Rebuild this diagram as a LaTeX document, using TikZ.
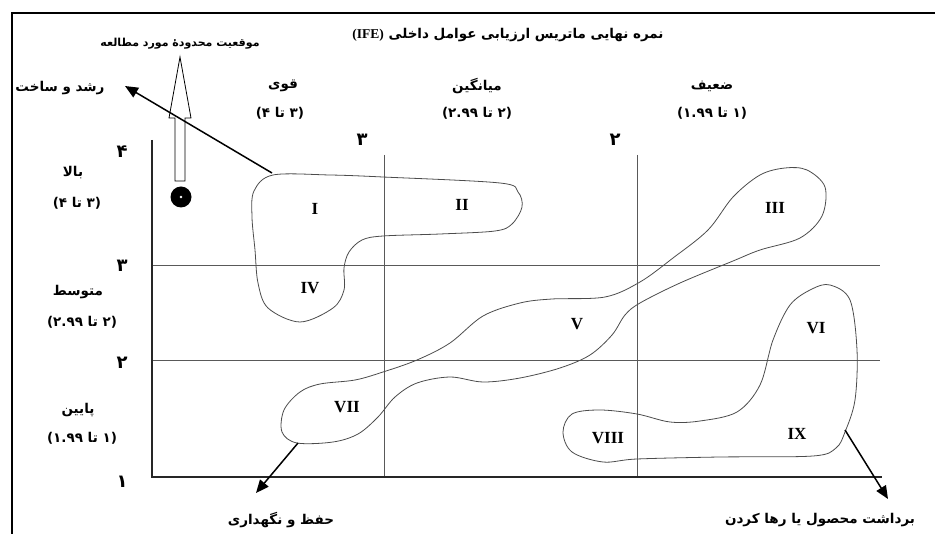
\documentclass[tikz,border=0pt]{standalone}
\usepackage{fontspec}
\usetikzlibrary{arrows.meta}
\TeXXeTstate=1
\newfontfamily\fa[Script=Arabic]{DejaVu Sans}
\newfontfamily\faL{DejaVu Sans}
\newfontfamily\tnr{Liberation Serif}
\newcommand{\rng}[2]{\beginL{\faL\bfseries(}\hbox{#1}\ \hbox{\beginR تا\endR}\ \hbox{#2}{\faL\bfseries)}\endL}
\begin{document}
\begin{tikzpicture}[x=1pt,y=-1pt,
  fatxt/.style={font=\fa\bfseries\fontsize{13.5}{15}\selectfont, inner sep=1pt},
  fasmall/.style={font=\fa\bfseries\fontsize{11}{13}\selectfont, inner sep=1pt},
  fanum/.style={font=\fa\bfseries\fontsize{18}{20}\selectfont, inner sep=1pt},
  roman/.style={font=\tnr\bfseries\fontsize{17}{19}\selectfont, inner sep=1pt},
  grid/.style={draw=black!65, line width=0.9pt},
  axisline/.style={draw=black!85, line width=1.5pt},
  blob/.style={draw=black!70, line width=0.8pt, smooth cycle, tension=0.55},
  conn/.style={draw=black, line width=1.5pt, -{Triangle[length=13pt,width=11pt]}},
  frameline/.style={draw=black, line width=2.6pt}
]
\useasboundingbox (0,0) rectangle (935,534);
% frame
\draw[frameline] (12,534) -- (12,13) -- (935,13);
% grid
\draw[grid] (152,265) -- (880,265);
\draw[grid] (152,360) -- (880,360);
\draw[grid] (384,155) -- (384,477);
\draw[grid] (637,155) -- (637,477);
% axes
\draw[axisline] (152,140) -- (152,477) -- (882,477);

% title and headers
\node[fatxt] (title) at (508,35) {\beginR نمره نهایی ماتریس ارزیابی عوامل داخلی \beginL{\tnr\bfseries (IFE)}\endL\endR};
\node[fatxt] (h1) at (283,86) {\beginR قوی\endR};
\node[fatxt] (h1r) at (280,113) {\rng{۴}{۳}};
\node[fatxt] (h2) at (477,86) {\beginR میانگین\endR};
\node[fatxt] (h2r) at (477,113) {\rng{۲.۹۹}{۲}};
\node[fatxt] (h3) at (712,86) {\beginR ضعیف\endR};
\node[fatxt] (h3r) at (712,113) {\rng{۱.۹۹}{۱}};
\node[fanum] (c3) at (362,140) {۳};
\node[fanum] (c2) at (615,140) {۲};

% row labels
\node[fanum] (r4) at (122,152) {۴};
\node[fanum] (r3) at (122,266) {۳};
\node[fanum] (r2) at (122,363) {۲};
\node[fanum] (r1) at (122,482) {۱};
\node[fatxt] (v1) at (73,173) {\beginR بالا\endR};
\node[fatxt] (v1r) at (77,203) {\rng{۴}{۳}};
\node[fatxt] (v2) at (78,292) {\beginR متوسط\endR};
\node[fatxt] (v2r) at (82,322) {\rng{۲.۹۹}{۲}};
\node[fatxt] (v3) at (78,410) {\beginR پایین\endR};
\node[fatxt] (v3r) at (82,438) {\rng{۱.۹۹}{۱}};

% study area marker
\node[fasmall] (loc) at (180,44) {\beginR موقعیت محدودهٔ مورد مطالعه\endR};
\draw[draw=black, line width=0.8pt, fill=white] (175,181) -- (175,118) -- (169,118) -- (180,57) -- (191,118) -- (185,118) -- (185,181) -- cycle;
\fill[black] (181,197) circle (10.5);
\fill[white] (181,197) circle (1.3);

% blobs
\draw[blob] plot coordinates {(273,175) (330,175) (383,177) (500,183) (518,192) (522,207) (512,224) (495,231) (440,234) (383,236) (362,240) (349,252) (344,268) (344,290) (333,308) (300,322) (268,308) (258,283) (255,250) (252,217) (254,191)};
\draw[blob] plot coordinates {(807,170) (825,187) (822,216) (800,238) (760,250) (733,261) (680,283) (640,303) (625,315) (612,335) (590,355) (560,368) (520,378) (483,382) (450,377) (417,383) (395,397) (378,417) (358,434) (333,442) (297,443) (282,432) (284,410) (300,392) (320,384) (355,380) (383,372) (417,360) (450,343) (483,316) (520,303) (552,299) (605,297) (640,282) (673,258) (708,230) (733,197) (760,175) (785,168)};
\draw[blob] plot coordinates {(830,285) (850,300) (857,350) (855,400) (845,432) (836,448) (813,456) (720,457) (637,459) (603,462) (572,452) (563,432) (572,414) (600,410) (637,414) (670,422) (700,421) (737,412) (760,385) (773,340) (790,305) (812,289)};

% roman labels
\node[roman] (nI) at (315,209) {I};
\node[roman] (nII) at (462,205) {II};
\node[roman] (nIII) at (775,208) {III};
\node[roman] (nIV) at (310,288) {IV};
\node[roman] (nV) at (577,324) {V};
\node[roman] (nVI) at (816,328) {VI};
\node[roman] (nVII) at (347,407) {VII};
\node[roman] (nVIII) at (608,438) {VIII};
\node[roman] (nIX) at (797,434) {IX};

% strategy labels and arrows
\node[fatxt] (grow) at (60,88) {\beginR رشد و ساخت\endR};
\node[fatxt] (hold) at (281,520) {\beginR حفظ و نگهداری\endR};
\node[fatxt] (harv) at (820,520) {\beginR برداشت محصول یا رها کردن\endR};
\coordinate (gs) at (272,173);
\coordinate (ge) at (125,86);
\coordinate (hs) at (298,443);
\coordinate (he) at (256,493);
\coordinate (vs) at (845,430);
\coordinate (ve) at (888,499);
\draw[conn] (gs) -- (ge);
\draw[conn] (hs) -- (he);
\draw[conn] (vs) -- (ve);
\end{tikzpicture}
\end{document}
